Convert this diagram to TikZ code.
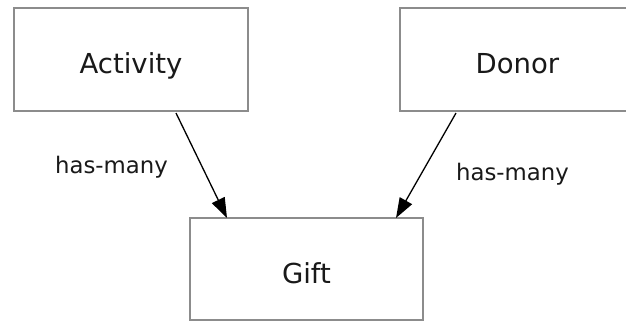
\documentclass[tikz,border=0pt]{standalone}
\usepackage{fontspec}
\setmainfont{DejaVu Sans}
\usetikzlibrary{arrows.meta}
\definecolor{boxgray}{RGB}{140,140,140}
\definecolor{txt}{RGB}{25,25,25}
\begin{document}
\begin{tikzpicture}[x=1pt,y=-1pt,
  entity/.style={draw=boxgray,line width=2pt,fill=white,minimum width=234pt,minimum height=103pt,
    inner sep=0pt,text=txt,font=\fontsize{27.5}{33}\selectfont,text height=28pt,text depth=0pt},
  rel/.style={text=txt,font=\fontsize{22.8}{27}\selectfont,inner sep=0pt},
  conn/.style={draw=black,line width=1.3pt,-{Triangle[length=20pt,width=14pt]}}]
\useasboundingbox[fill=white] (0,0) rectangle (626,322);
\node[entity] (act) at (131,59.5) {Activity};
\node[entity,minimum width=235pt] (don) at (517.5,59.5) {Donor};
\node[entity,minimum width=233pt,minimum height=102pt] (gift) at (306.5,269) {Gift};
\node[rel] (l1) at (111.5,167) {has-many};
\node[rel] (l2) at (512.5,174) {has-many};
\draw[conn] ([xshift=163pt,yshift=-1pt]act.south west) -- ([xshift=38pt,yshift=-1pt]gift.north west);
\draw[conn] ([xshift=57pt,yshift=-1pt]don.south west) -- ([xshift=207pt,yshift=-1pt]gift.north west);
\end{tikzpicture}
\end{document}
